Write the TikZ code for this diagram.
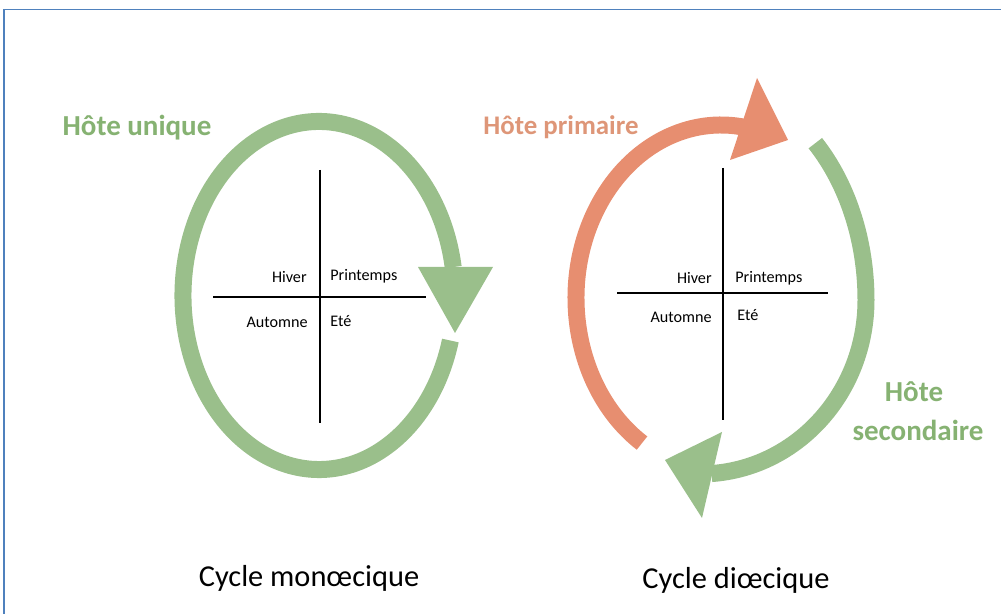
\documentclass[tikz,border=0pt]{standalone}
\usepackage{fontspec}
\setmainfont{Carlito}
\usetikzlibrary{positioning}

\definecolor{ringgreen}{RGB}{154,191,139}
\definecolor{hostgreen}{RGB}{134,178,114}
\definecolor{ringorange}{RGB}{231,142,112}
\definecolor{hostorange}{RGB}{222,150,120}
\definecolor{frameblue}{RGB}{79,129,189}

\tikzset{
  ring/.style={line width=0.34cm},
  season/.style={font=\fontsize{9.2}{10}\selectfont, inner sep=0pt},
  host/.style={font=\fontsize{16.5}{18}\selectfont\bfseries, inner sep=0pt},
  cyclename/.style={font=\fontsize{17.3}{20}\selectfont, inner sep=0pt},
}

\begin{document}
\begin{tikzpicture}[x=0.02cm,y=0.02cm]
    \useasboundingbox (0,0) rectangle (1001,614);
    % frame
    \draw[frameblue, line width=1.1pt] (4,0) -- (4,604.5) -- (1001,604.5);

    % left cycle: one host
    \coordinate (cL) at (319,318.5);
    \draw[ring, ringgreen] (cL) ++(-15:136 and 174)
        arc[start angle=-15, end angle=-350.6, x radius=136, y radius=174];
    \fill[ringgreen] (418,347) -- (493,347) -- (455,281) -- cycle;
    % seasons cross
    \coordinate (wL) at (213,317);
    \coordinate (eL) at (426,317);
    \coordinate (nL) at (320,444);
    \coordinate (sL) at (320,191);
    \draw[line width=0.6pt] (wL) -- (eL);
    \draw[line width=0.6pt] (nL) -- (sL);
    \node[season, anchor=east] (hiverL) at (307,337) {Hiver};
    \node[season, anchor=west] (printL) at (330,338) {Printemps};
    \node[season, anchor=east] (automL) at (308,292) {Automne};
    \node[season, anchor=west] (eteL) at (330,293) {Eté};
    \node[host, text=hostgreen] (hostU) at (137,486) {Hôte unique};
    \node[cyclename] (monoe) at (309,36) {Cycle monœcique};

    % right cycle: two hosts
    \coordinate (cRo) at (721,316);
    \coordinate (cRg) at (700,314);
    \draw[ring, ringorange] (cRo) ++(237:145 and 173)
        arc[start angle=237, end angle=80, x radius=145, y radius=173];
    \fill[ringorange] (757,536) -- (730,454) -- (788,474) -- cycle;
    \draw[ring, ringgreen] (cRg) ++(46:166 and 218)
        arc[start angle=46, end angle=0, x radius=166, y radius=218]
        arc[start angle=0, end angle=-86, x radius=166, y radius=174];
    \fill[ringgreen] (722,182) -- (702,96) -- (665,154) -- cycle;
    % seasons cross
    \coordinate (wR) at (617,321);
    \coordinate (eR) at (828,321);
    \coordinate (nR) at (723,446);
    \coordinate (sR) at (723,194);
    \draw[line width=0.6pt] (wR) -- (eR);
    \draw[line width=0.6pt] (nR) -- (sR);
    \node[season, anchor=east] (hiverR) at (712,336) {Hiver};
    \node[season, anchor=west] (printR) at (735,336) {Printemps};
    \node[season, anchor=east] (automR) at (712,297) {Automne};
    \node[season, anchor=west] (eteR) at (737,299) {Eté};
    \node[host, text=hostorange, font=\fontsize{15.3}{18}\selectfont\bfseries] (hostP) at (561,487) {Hôte primaire};
    \node[host, text=hostgreen] (hostS1) at (914,222) {Hôte};
    \node[host, text=hostgreen] (hostS2) at (918,184) {secondaire};
    \node[cyclename] (dioe) at (736,34) {Cycle diœcique};
\end{tikzpicture}
\end{document}
